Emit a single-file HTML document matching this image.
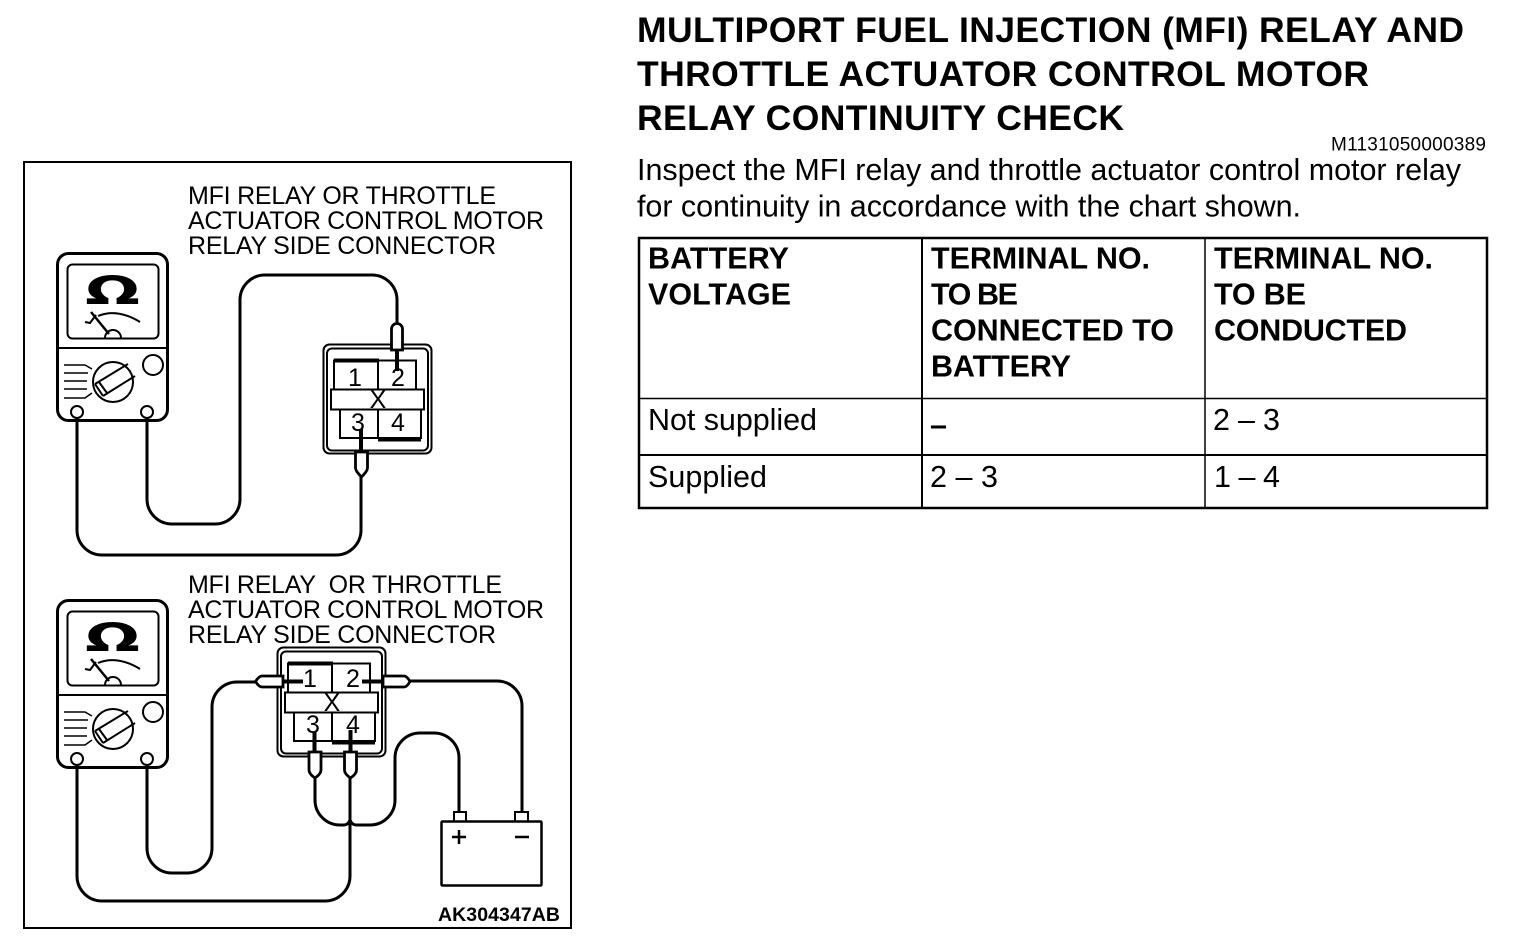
<!DOCTYPE html>
<html><head><meta charset="utf-8"><style>
html,body{margin:0;padding:0;background:#fff;width:1536px;height:944px;overflow:hidden}
svg{display:block}
text{font-family:"Liberation Sans",sans-serif;fill:#000}
.t{font-weight:bold;font-size:35.5px}
.b{font-size:30.5px}
.h{font-weight:bold;font-size:30.5px}
.l{font-size:25px;white-space:pre}
.n{font-size:25px}
.w{fill:none;stroke:#000;stroke-width:3}
.f{fill:#fff;stroke:#000;stroke-width:2}
.p{fill:#fff;stroke:#000;stroke-width:2.8}
.s{fill:none;stroke:#000;stroke-width:2}
</style></head><body>
<svg width="1536" height="944" viewBox="0 0 1536 944" xmlns="http://www.w3.org/2000/svg">
<defs>
<g id="meter">
<rect x="57.500" y="253.500" width="110" height="167" rx="11" fill="#fff" stroke="#000" stroke-width="3"/>
<rect x="67.500" y="264.500" width="91" height="74" rx="5" class="s"/>
<path d="M57 348H168" class="s"/>
<path d="M85 322L90 323L96 315M98 316Q117 308 140 322" class="s"/>
<path d="M91 312L109 334" fill="none" stroke="#000" stroke-width="2.5"/>
<path d="M105 338A8 8 0 0 1 121 338" class="s"/>
<path d="M64 365H85L92 369M64 373H88M64 381H87M64 389H87M64 398H85L92 393" fill="none" stroke="#000" stroke-width="1.5"/>
<circle cx="113" cy="382" r="20" class="s"/>
<path d="M95 384L128 364M103 396L135 376M95 384L103 396M99 382L107 393" class="s"/>
<circle cx="153" cy="365" r="10" class="s"/>
<circle cx="77" cy="412" r="6" class="s"/>
<circle cx="147" cy="412" r="6" class="s"/>
<text transform="translate(112.500 304) scale(1.4 .86)" text-anchor="middle" font-size="46" font-weight="bold" style="font-family:'DejaVu Sans',sans-serif">Ω</text>
</g>
<g id="relay">
<rect x="323.500" y="344.500" width="108" height="109" rx="6" class="f"/>
<rect x="327" y="348.500" width="101" height="102" rx="5" class="s"/>
<rect x="334" y="360.500" width="82" height="29" class="s"/>
<path d="M378 360V389" class="s"/>
<rect x="340" y="409" width="81" height="29" class="s"/>
<path d="M378 409V438" class="s"/>
<rect x="331" y="389.500" width="93" height="20" class="f"/>
<path d="M334 360.500H379M378 439.500H421" stroke="#000" stroke-width="4" fill="none"/>
<text x="378" y="408" font-size="25" text-anchor="middle">X</text>
</g>
</defs>

<rect x="24" y="162" width="547" height="766" fill="none" stroke="#000" stroke-width="2"/>

<text x="188" y="204" class="l" textLength="308">MFI RELAY OR THROTTLE</text>
<text x="188" y="229" class="l" textLength="356">ACTUATOR CONTROL MOTOR</text>
<text x="188" y="254" class="l" textLength="308">RELAY SIDE CONNECTOR</text>
<text x="188" y="593" class="l" textLength="314">MFI RELAY  OR THROTTLE</text>
<text x="188" y="618" class="l" textLength="356">ACTUATOR CONTROL MOTOR</text>
<text x="188" y="643" class="l" textLength="308">RELAY SIDE CONNECTOR</text>

<use href="#meter"/>
<use href="#meter" y="347"/>

<path class="w" d="M77 418V530A25 25 0 0 0 102 555H336A25 25 0 0 0 361 530V476"/>
<path class="w" d="M147 418V499A25 25 0 0 0 172 524H215A25 25 0 0 0 240 499V300A25 25 0 0 1 265 275H372A25 25 0 0 1 397 300V323"/>
<use href="#relay"/>
<text x="355" y="386" class="n" text-anchor="middle">1</text>
<text x="398" y="386" class="n" text-anchor="middle">2</text>
<text x="358" y="431" class="n" text-anchor="middle">3</text>
<text x="398" y="431" class="n" text-anchor="middle">4</text>
<path d="M397 350V371" stroke="#000" stroke-width="4" fill="none"/>
<path d="M361 429V452" stroke="#000" stroke-width="4" fill="none"/>
<path d="M391.500 350V329A5.500 5.500 0 0 1 402.500 329V350Z" class="p"/>
<path d="M355.500 452H367.500V468Q367.500 471 361.500 477Q355.500 471 355.500 468Z" class="p"/>

<path class="w" d="M77 765V876A25 25 0 0 0 102 901H325A25 25 0 0 0 350 876V778"/>
<path class="w" d="M147 765V848A25 25 0 0 0 172 873H187A25 25 0 0 0 212 848V707A25 25 0 0 1 237 682H256"/>
<path class="w" d="M410 681H497A25 25 0 0 1 522 706V811"/>
<path class="w" d="M459 811V758A25 25 0 0 0 434 733H420A25 25 0 0 0 395 758V800A25 25 0 0 1 370 825H356Q352 825 350 820Q348 825 344 825H340A25 25 0 0 1 315 800V778"/>
<use href="#relay" x="-46" y="303"/>
<text x="310" y="687" class="n" text-anchor="middle">1</text>
<text x="353" y="687" class="n" text-anchor="middle">2</text>
<text x="313" y="733" class="n" text-anchor="middle">3</text>
<text x="353" y="733" class="n" text-anchor="middle">4</text>
<path d="M283 681.500H303M362 681.500H383M314.500 732V752M350.500 730V752" stroke="#000" stroke-width="4" fill="none"/>
<path d="M283 676H262Q259 676 255.500 681.500Q259 687 262 687H283Z" class="p"/>
<path d="M383 676H404Q407 676 410 681.500Q407 687 404 687H383Z" class="p"/>
<path d="M309 752H321V770Q321 774 315 778Q309 774 309 770Z" class="p"/>
<path d="M344.500 752H356.500V770Q356.500 774 350.500 778Q344.500 774 344.500 770Z" class="p"/>

<rect x="454" y="812" width="12" height="10" class="f"/>
<rect x="515" y="812" width="13" height="10" class="f"/>
<rect x="441.500" y="821.500" width="100" height="64" rx="1" fill="#fff" stroke="#000" stroke-width="2.500"/>
<path d="M452 837H466M459 830V844M515 837H529" stroke="#000" stroke-width="2.500" fill="none"/>
<text x="438" y="921" font-size="19.500" font-weight="bold" textLength="122">AK304347AB</text>

<text x="637" y="42" class="t" textLength="827">MULTIPORT FUEL INJECTION (MFI) RELAY AND</text>
<text x="637" y="86" class="t" textLength="732">THROTTLE ACTUATOR CONTROL MOTOR</text>
<text x="637" y="130" class="t" textLength="487">RELAY CONTINUITY CHECK</text>
<text x="1331" y="150.500" font-size="19" textLength="155">M1131050000389</text>
<text x="637" y="180" class="b" textLength="824">Inspect the MFI relay and throttle actuator control motor relay</text>
<text x="637" y="216.500" class="b" textLength="664">for continuity in accordance with the chart shown.</text>

<rect x="639" y="238" width="848" height="270" fill="none" stroke="#000" stroke-width="2.500"/>
<path d="M922 238V508" stroke="#000" stroke-width="2" fill="none"/>
<path d="M1205 238V508" stroke="#000" stroke-width="1.500" fill="none"/>
<path d="M639 398.500H1487" stroke="#000" stroke-width="1.500" fill="none"/>
<path d="M639 455H1487" stroke="#000" stroke-width="2" fill="none"/>

<text x="648" y="268.500" class="h" textLength="141">BATTERY</text>
<text x="648" y="304.500" class="h" textLength="143">VOLTAGE</text>
<text x="931" y="268.500" class="h" textLength="219">TERMINAL NO.</text>
<text x="931" y="304.500" class="h" textLength="87">TO BE</text>
<text x="931" y="340.500" class="h" textLength="243">CONNECTED TO</text>
<text x="931" y="376.500" class="h" textLength="140">BATTERY</text>
<text x="1214" y="268.500" class="h" textLength="219">TERMINAL NO.</text>
<text x="1214" y="304.500" class="h" textLength="92">TO BE</text>
<text x="1214" y="340.500" class="h" textLength="193">CONDUCTED</text>
<text x="648" y="430" class="b" textLength="169">Not supplied</text>
<text x="930" y="435" class="b" font-weight="bold">–</text>
<text x="1213" y="430" class="b" textLength="67">2 – 3</text>
<text x="648" y="487" class="b" textLength="119">Supplied</text>
<text x="930" y="487" class="b" textLength="68">2 – 3</text>
<text x="1214" y="487" class="b" textLength="66">1 – 4</text>
</svg>
</body></html>
